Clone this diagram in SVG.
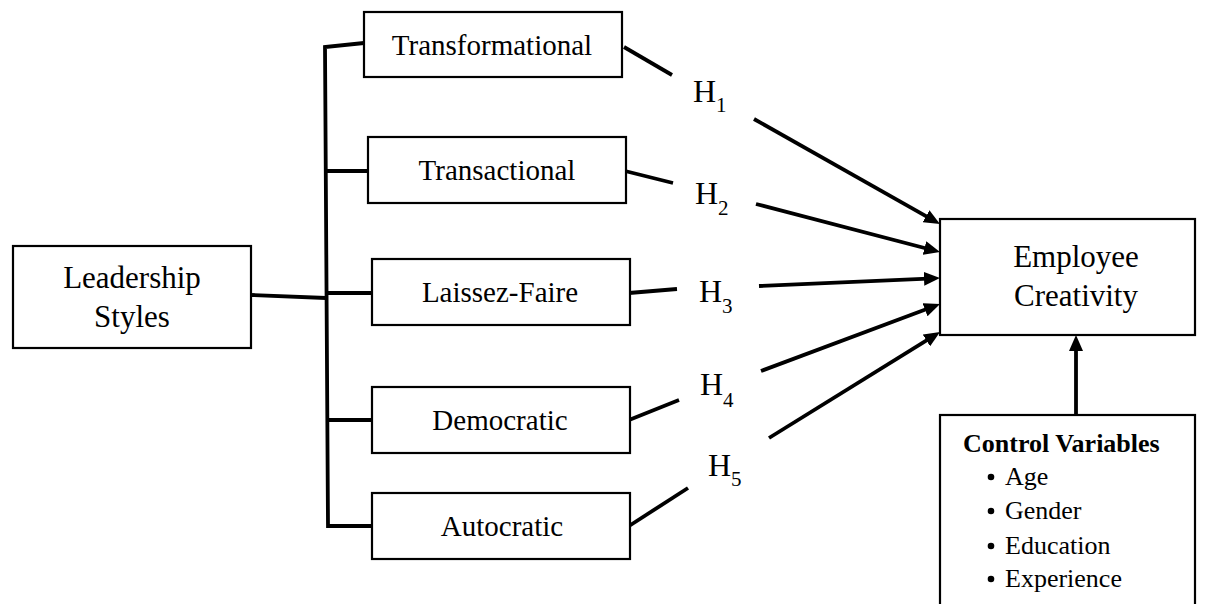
<svg xmlns="http://www.w3.org/2000/svg" width="1206" height="604" viewBox="0 0 1206 604">
<style>
.box{fill:#fff;stroke:#000;stroke-width:2.2}
.t{font-family:"Liberation Serif","Times New Roman",serif;fill:#000;text-anchor:middle}
.lbl{font-size:29px}
.big{font-size:31px}
.h{font-family:"Liberation Serif","Times New Roman",serif;font-size:32px;fill:#000}
.sub{font-size:21px}
.cv{font-family:"Liberation Serif","Times New Roman",serif;font-size:26px;fill:#000}
.ln{stroke:#000;stroke-width:3.8;fill:none}
.arr{stroke:#000;stroke-width:3.8;fill:none;marker-end:url(#ah)}
</style>
<defs>
<marker id="ah" markerUnits="userSpaceOnUse" markerWidth="16" markerHeight="14" refX="4" refY="7" orient="auto">
<path d="M0,0 L16,7 L0,14 z" fill="#000"/>
</marker>
</defs>
<rect width="1206" height="604" fill="#fff"/>
<g id="connectors">
<line class="ln" x1="252" y1="295" x2="326" y2="298"/>
<polyline class="ln" points="364,43 325,47 328,526 372,526"/>
<line class="ln" x1="326" y1="171" x2="368" y2="171"/>
<line class="ln" x1="327" y1="293" x2="372" y2="293"/>
<line class="ln" x1="327" y1="420" x2="372" y2="420"/>
<line class="ln" x1="624" y1="47" x2="672" y2="75"/>
<line class="ln" x1="625" y1="171" x2="673" y2="183"/>
<line class="ln" x1="629" y1="293" x2="677" y2="289"/>
<line class="ln" x1="629" y1="420" x2="679" y2="400"/>
<line class="ln" x1="629" y1="526" x2="688" y2="488"/>
<line class="arr" x1="754" y1="119" x2="929.5" y2="218.2"/>
<line class="arr" x1="756" y1="204" x2="928.4" y2="249"/>
<line class="arr" x1="759" y1="286" x2="928" y2="278.6"/>
<line class="arr" x1="761" y1="371" x2="928.8" y2="308.3"/>
<line class="arr" x1="769" y1="438" x2="929.8" y2="338.3"/>
<line class="arr" x1="1076" y1="415" x2="1076" y2="347"/>
</g>
<g id="leadership">
<rect class="box" x="13" y="246" width="238" height="102"/>
<text class="t big" x="132" y="288">Leadership</text>
<text class="t big" x="132" y="327">Styles</text>
</g>
<g id="transformational">
<rect class="box" x="364" y="12" width="258" height="65"/>
<text class="t lbl" x="492" y="55">Transformational</text>
</g>
<g id="transactional">
<rect class="box" x="368" y="137" width="258" height="66"/>
<text class="t lbl" x="497" y="180">Transactional</text>
</g>
<g id="laissez-faire">
<rect class="box" x="372" y="259" width="258" height="66"/>
<text class="t lbl" x="500" y="302">Laissez-Faire</text>
</g>
<g id="democratic">
<rect class="box" x="372" y="387" width="258" height="66"/>
<text class="t lbl" x="500" y="430">Democratic</text>
</g>
<g id="autocratic">
<rect class="box" x="372" y="493" width="258" height="66"/>
<text class="t lbl" x="502" y="536">Autocratic</text>
</g>
<g id="employee-creativity">
<rect class="box" x="940" y="219" width="255" height="116"/>
<text class="t big" x="1076" y="267">Employee</text>
<text class="t big" x="1076" y="306">Creativity</text>
</g>
<g id="control-variables">
<rect class="box" x="940" y="415" width="255" height="200"/>
<text class="cv" x="963" y="452" font-weight="bold">Control Variables</text>
<circle cx="991" cy="477" r="3.3" fill="#000"/>
<text class="cv" x="1005" y="485">Age</text>
<circle cx="991" cy="511" r="3.3" fill="#000"/>
<text class="cv" x="1005" y="519">Gender</text>
<circle cx="991" cy="546" r="3.3" fill="#000"/>
<text class="cv" x="1005" y="554">Education</text>
<circle cx="991" cy="579" r="3.3" fill="#000"/>
<text class="cv" x="1005" y="587">Experience</text>
</g>
<g id="h1"><text class="h" x="693" y="102">H<tspan class="sub" dy="10">1</tspan></text></g>
<g id="h2"><text class="h" x="695" y="204">H<tspan class="sub" dy="11">2</tspan></text></g>
<g id="h3"><text class="h" x="699" y="302">H<tspan class="sub" dy="11">3</tspan></text></g>
<g id="h4"><text class="h" x="700" y="395">H<tspan class="sub" dy="12">4</tspan></text></g>
<g id="h5"><text class="h" x="708" y="476">H<tspan class="sub" dy="10">5</tspan></text></g>
</svg>
